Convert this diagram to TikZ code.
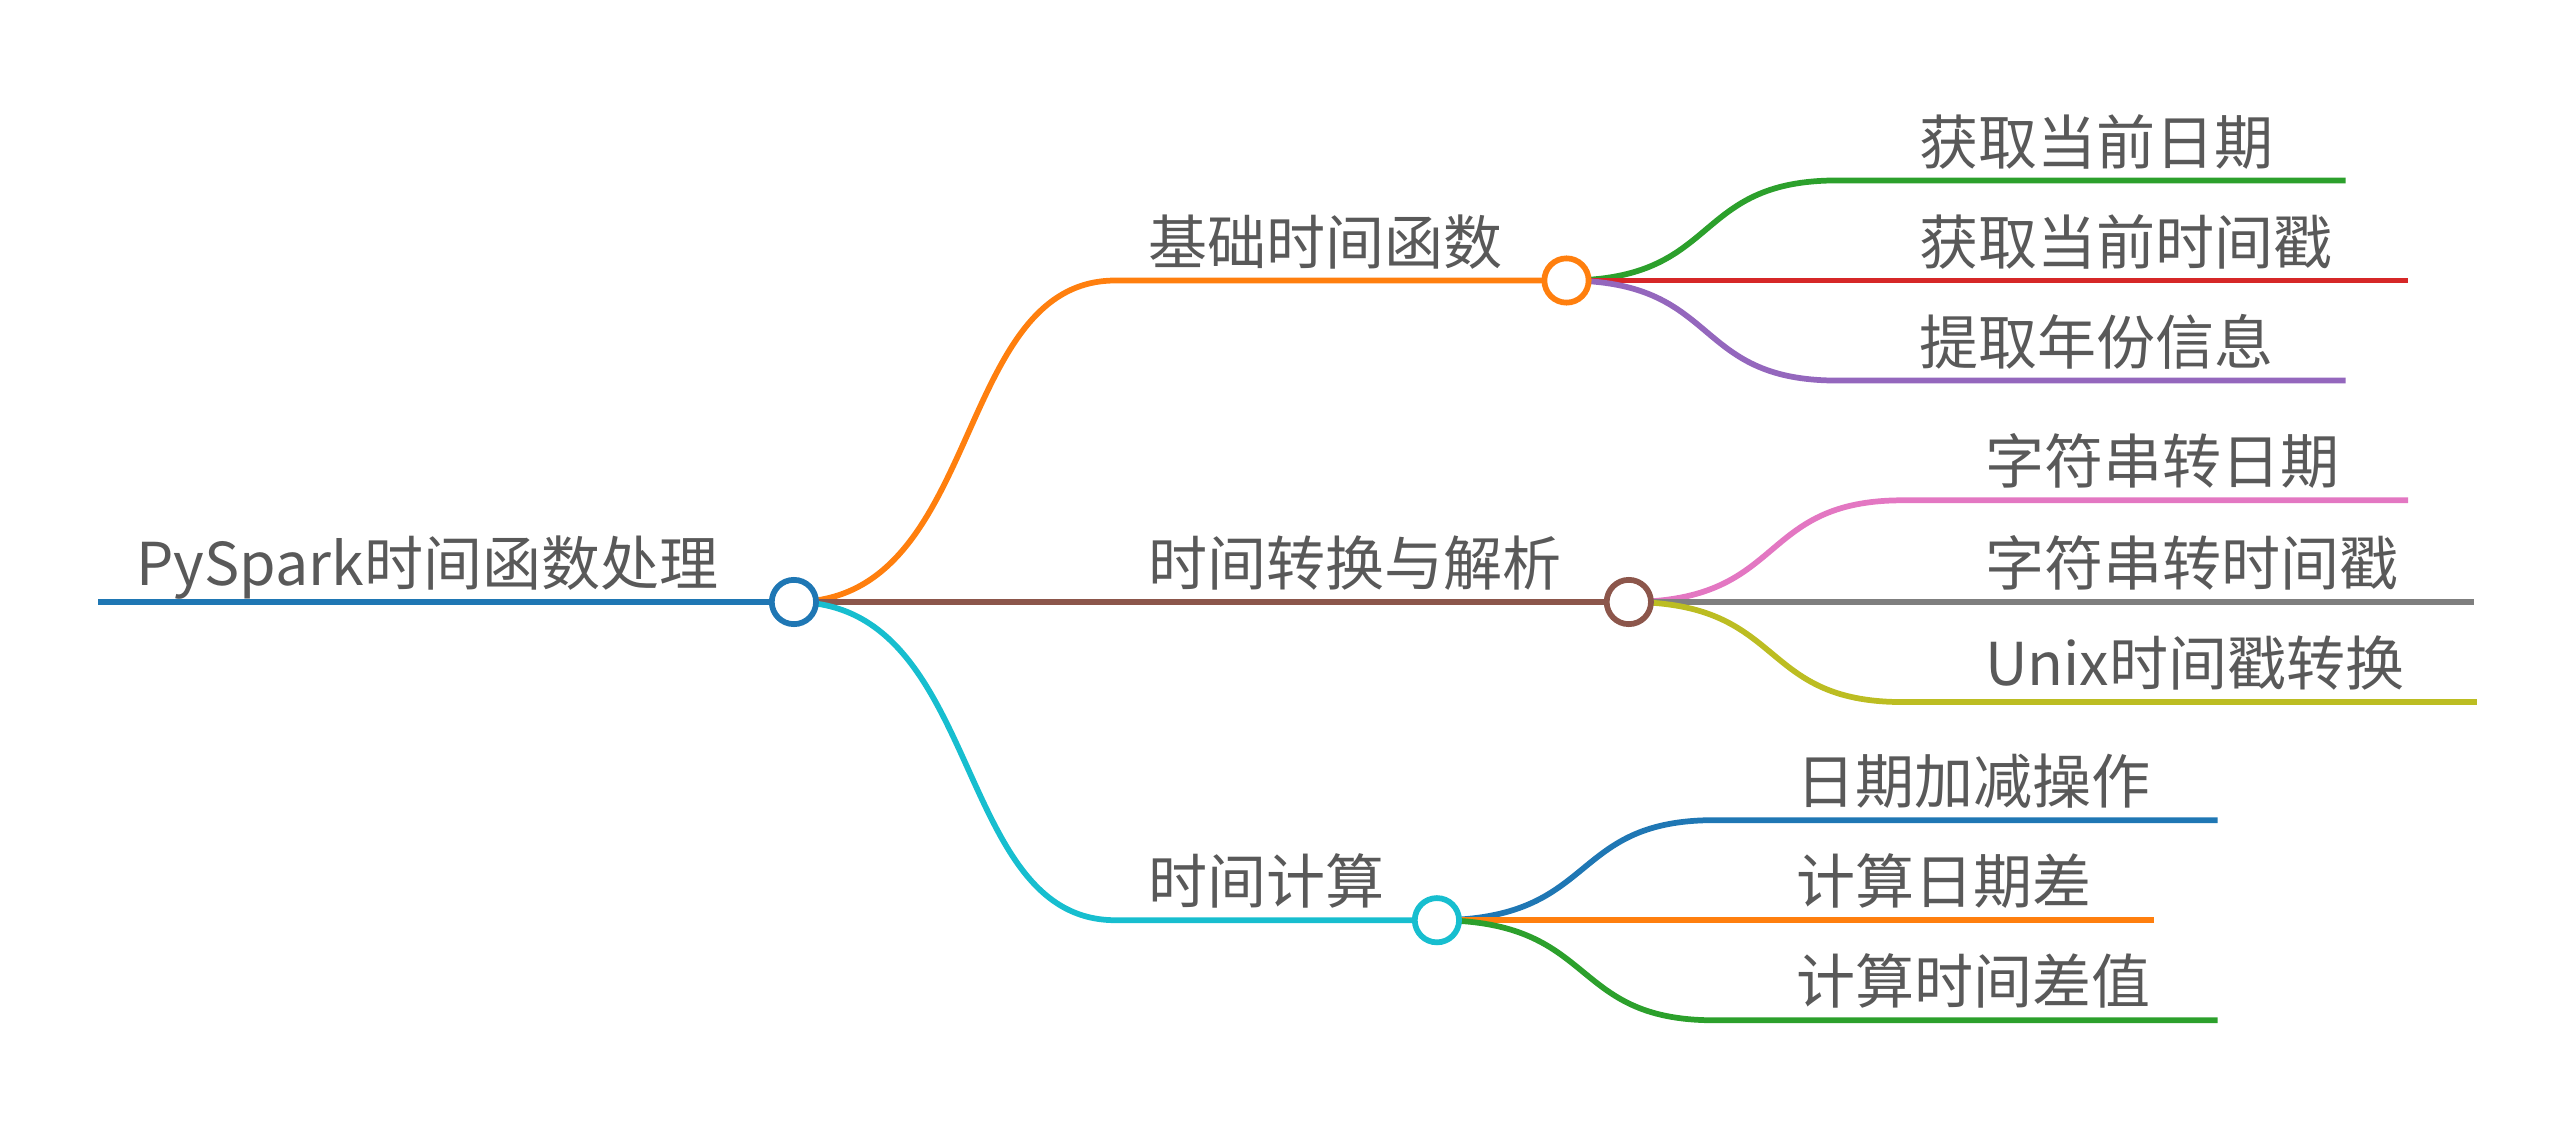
\documentclass[tikz,border=0pt]{standalone}
\usepackage{fontspec}
\newfontfamily\cjk{Noto Sans CJK SC}[Scale=1]
\begin{document}
\definecolor{tOrange}{HTML}{FF7F0E}\definecolor{tBrown}{HTML}{8C564B}
\definecolor{tCyan}{HTML}{17BECF}\definecolor{tBlue}{HTML}{1F77B4}
\definecolor{tGreen}{HTML}{2CA02C}\definecolor{tRed}{HTML}{D62728}
\definecolor{tPurple}{HTML}{9467BD}\definecolor{tPink}{HTML}{E377C2}
\definecolor{tGray}{HTML}{7F7F7F}\definecolor{tOlive}{HTML}{BCBD22}
\begin{tikzpicture}[x=1pt,y=-1pt,
  lbl/.style={anchor=base west,inner sep=0pt,text=black!65,font=\cjk\fontsize{36}{40}\selectfont},
  ln/.style={line width=3.5pt},
  dot/.style={circle,draw,line width=3.5pt,fill=white,minimum size=27pt,inner sep=0pt}]
\useasboundingbox (0,0) rectangle (1568,686);
% coordinates
\coordinate (r0) at (60,367);
\coordinate (b1a) at (680,171); \coordinate (b1b) at (955,171);
\coordinate (b3a) at (680,561); \coordinate (b3b) at (876,561);
% root
\draw[ln,tBlue] (r0) -- (484,367);
% branches
\draw[ln,tOrange] (484,367) .. controls (600,367) and (580,171) .. (b1a) -- (b1b);
\draw[ln,tBrown] (484,367) -- (993,367);
\draw[ln,tCyan] (484,367) .. controls (600,367) and (580,561) .. (b3a) -- (b3b);
% leaves 1
\draw[ln,tGreen] (955,171) .. controls (1050,171) and (1030,110) .. (1120,110) -- (1430,110);
\draw[ln,tRed] (955,171) -- (1468,171);
\draw[ln,tPurple] (955,171) .. controls (1050,171) and (1030,232) .. (1120,232) -- (1430,232);
% leaves 2
\draw[ln,tPink] (993,367) .. controls (1090,367) and (1070,305) .. (1160,305) -- (1468,305);
\draw[ln,tGray] (993,367) -- (1508,367);
\draw[ln,tOlive] (993,367) .. controls (1090,367) and (1070,428) .. (1160,428) -- (1510,428);
% leaves 3
\draw[ln,tBlue] (876,561) .. controls (975,561) and (955,500) .. (1045,500) -- (1352,500);
\draw[ln,tOrange] (876,561) -- (1313,561);
\draw[ln,tGreen] (876,561) .. controls (975,561) and (955,622) .. (1045,622) -- (1352,622);
% dots
\node[dot,draw=tBlue] (root) at (484,367) {};
\node[dot,draw=tOrange] (n1) at (955,171) {};
\node[dot,draw=tBrown] (n2) at (993,367) {};
\node[dot,draw=tCyan] (n3) at (876,561) {};
% labels
\node[lbl] (t0) at (83,357) {PySpark时间函数处理};
\node[lbl] (t1) at (700,161) {基础时间函数};
\node[lbl] (t2) at (700,357) {时间转换与解析};
\node[lbl] (t3) at (700,551) {时间计算};
\node[lbl] (l11) at (1170,100) {获取当前日期};
\node[lbl] (l12) at (1170,161) {获取当前时间戳};
\node[lbl] (l13) at (1170,222) {提取年份信息};
\node[lbl] (l21) at (1210,295) {字符串转日期};
\node[lbl] (l22) at (1210,357) {字符串转时间戳};
\node[lbl] (l23) at (1210,418) {Unix时间戳转换};
\node[lbl] (l31) at (1095,490) {日期加减操作};
\node[lbl] (l32) at (1095,551) {计算日期差};
\node[lbl] (l33) at (1095,612) {计算时间差值};
\end{tikzpicture}
\end{document}
